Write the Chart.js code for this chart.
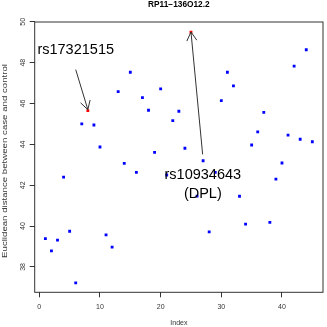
<!DOCTYPE html>
<html>
<head>
<meta charset="utf-8">
<script src="https://cdn.jsdelivr.net/npm/chart.js@4"></script>
<style>
  html, body { margin: 0; padding: 0; background: #ffffff; }
  #grafico_distancia { display: block; }
</style>
</head>
<body>
<canvas id="grafico_distancia" width="327" height="327"></canvas>
<script>
// dados
const indices = [1, 2, 3, 4, 5, 6, 7, 8, 9, 10, 11, 12, 13, 14, 15, 16, 17, 18, 19, 20, 21, 22, 23,
  24, 25, 26, 27, 28, 29, 30, 31, 32, 33, 34, 35, 36, 37, 38, 39, 40, 41, 42, 43, 44, 45];
const distancias = [39.39, 38.79, 39.31, 42.40, 39.75, 37.22, 45.00, 45.65, 44.95, 43.87,
  39.57, 38.97, 46.58, 43.07, 47.53, 42.63, 46.29, 45.67, 43.61, 46.72,
  42.50, 45.16, 45.62, 43.81, 49.49, 41.47, 43.20, 39.72, 42.63, 46.14,
  47.53, 46.86, 41.46, 40.10, 43.97, 44.61, 45.57, 40.18, 42.30, 43.09,
  44.45, 47.83, 44.25, 48.63, 44.13];
const destacados = [8, 25];
const snps = ['rs17321515', 'rs10934643'];
const genes = ['', '(DPL)'];
const ticksX = [0, 10, 20, 30, 40];
const ticksY = [38, 40, 42, 44, 46, 48, 50];
const titulo = 'RP11\u2212136O12.2';
const rotuloX = 'Index';
const rotuloY = 'Euclidean distance between case and control';

const fonte = '"Liberation Sans", Arial, sans-serif';

// onde fica cada texto e cada seta (em unidades do grafico)
const anotacoes = [
  { texto: [6.0, 48.64], de: [6.0, 47.66], para: [8, 45.7] },
  { texto: [26.95, 42.49], de: [26.92, 43.51], para: [25, 49.5] }
];

function seta(ctx, x0, y0, x1, y1) {
  const ang = Math.atan2(y1 - y0, x1 - x0);
  const tam = 10;
  ctx.beginPath();
  ctx.moveTo(x0, y0);
  ctx.lineTo(x1, y1);
  ctx.moveTo(x1 - tam * Math.cos(ang - Math.PI / 6), y1 - tam * Math.sin(ang - Math.PI / 6));
  ctx.lineTo(x1, y1);
  ctx.lineTo(x1 - tam * Math.cos(ang + Math.PI / 6), y1 - tam * Math.sin(ang + Math.PI / 6));
  ctx.stroke();
}

const moldura = {
  id: 'moldura',
  afterDraw(chart) {
    const ctx = chart.ctx;
    const area = chart.chartArea;
    const sx = chart.scales.x;
    const sy = chart.scales.y;
    ctx.save();

    // caixa em volta
    ctx.strokeStyle = '#333333';
    ctx.lineWidth = 1;
    ctx.strokeRect(area.left, area.top, area.right - area.left, area.bottom - area.top);

    // titulo e eixos
    ctx.fillStyle = '#000000';
    ctx.textAlign = 'center';
    ctx.textBaseline = 'middle';
    ctx.font = 'bold 8.3px ' + fonte;
    ctx.fillText(titulo, (area.left + area.right) / 2, 4.5);
    ctx.font = '7px ' + fonte;
    ctx.fillStyle = '#333333';
    ctx.fillText(rotuloX, (area.left + area.right) / 2, 323.5);
    // o rotulo do eixo y vem mais esticado no original
    ctx.save();
    ctx.translate(5, 161);
    ctx.rotate(-Math.PI / 2);
    ctx.scale(1.38, 1);
    ctx.fillText(rotuloY, 0, 0);
    ctx.restore();

    // setas e nomes dos snps
    ctx.strokeStyle = '#333333';
    anotacoes.forEach(function (a, i) {
      seta(ctx,
        sx.getPixelForValue(a.de[0]), sy.getPixelForValue(a.de[1]),
        sx.getPixelForValue(a.para[0]), sy.getPixelForValue(a.para[1]));
      ctx.fillStyle = '#000000';
      ctx.font = '14.5px ' + fonte;
      const tx = sx.getPixelForValue(a.texto[0]);
      const ty = sy.getPixelForValue(a.texto[1]);
      ctx.fillText(snps[i], tx, ty);
      if (genes[i]) {
        ctx.fillText(genes[i], tx, ty + 19);
      }
    });
    ctx.restore();
  }
};

const graficoDistancia = document.getElementById('grafico_distancia');

new Chart(graficoDistancia, {
  type: 'scatter',
  data: {
    datasets: [{
      data: indices.map(function (x, i) { return { x: x, y: distancias[i] }; }),
      pointStyle: 'rect',
      pointRadius: 2,
      pointBorderWidth: 0,
      pointBackgroundColor: indices.map(function (x) {
        return destacados.includes(x) ? '#ff0000' : '#0000ff';
      })
    }]
  },
  options: {
    responsive: false,
    animation: false,
    layout: { padding: { top: 22, right: 1.7, left: 0, bottom: 0 } },
    plugins: {
      legend: { display: false },
      tooltip: { enabled: false }
    },
    scales: {
      x: {
        type: 'linear',
        min: -0.76,
        max: 46.76,
        afterBuildTicks: function (s) { s.ticks = ticksX.map(function (v) { return { value: v }; }); },
        afterFit: function (s) { s.height = 34.7; },
        grid: { drawOnChartArea: false, tickLength: 5, color: '#333333' },
        border: { display: false },
        ticks: { color: '#333333', padding: 5.4, maxRotation: 0, font: { family: fonte, size: 7 } }
      },
      y: {
        type: 'linear',
        min: 36.76,
        max: 49.99,
        afterBuildTicks: function (s) { s.ticks = ticksY.map(function (v) { return { value: v }; }); },
        afterFit: function (s) { s.width = 34.7; },
        grid: { drawOnChartArea: false, tickLength: 5, color: '#333333' },
        border: { display: false },
        ticks: { color: '#333333', padding: 3, minRotation: 90, maxRotation: 90, crossAlign: 'center', font: { family: fonte, size: 7 } }
      }
    }
  },
  plugins: [moldura]
});
</script>
</body>
</html>
